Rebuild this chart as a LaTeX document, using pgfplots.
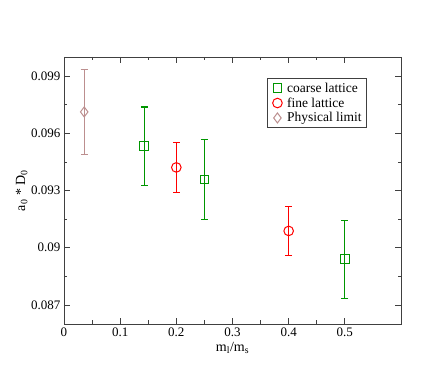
\documentclass[border=0pt]{standalone}
\usepackage{fontspec}
\setmainfont{Liberation Serif}
\usepackage{pgfplots}
\pgfplotsset{compat=1.18}

\definecolor{coarse}{RGB}{0,150,0}
\definecolor{fine}{RGB}{255,0,0}
\definecolor{phys}{RGB}{188,143,143}

\newcommand{\tickfont}{\fontsize{13pt}{13pt}\selectfont}
\newcommand{\labfont}{\fontsize{14pt}{14pt}\selectfont}
\newcommand{\legfont}{\fontsize{13.5pt}{13.5pt}\selectfont}

\begin{document}
\begin{tikzpicture}
\begin{axis}[
    scale only axis,
    width=337pt,
    height=267pt,
    xmin=0, xmax=0.6,
    ymin=0.086, ymax=0.100,
    xtick={0,0.1,...,0.5},
    xticklabels={0,0.1,0.2,0.3,0.4,0.5},
    ytick={0.087,0.090,0.093,0.096,0.099},
    yticklabels={0.087,0.09,0.093,0.096,0.099},
    minor x tick num=1,
    minor y tick num=1,
    tick align=inside,
    major tick length=6pt,
    minor tick length=3.5pt,
    every tick/.style={black!75, line width=0.7pt},
    axis line style={black!75, line width=0.9pt},
    /pgf/number format/assume math mode=true,
    every tick label/.append style={font=\tickfont},
    xlabel style={font=\labfont, yshift=1pt},
    ylabel style={font=\labfont, yshift=-3pt},
    xlabel={m\textsubscript{l}/m\textsubscript{s}},
    ylabel={a\textsubscript{0} * D\textsubscript{0}},
    legend style={
        at={(0.601,0.920)}, anchor=north west,
        draw=black!75, line width=0.6pt,
        font=\legfont,
        inner xsep=3pt, inner ysep=2pt,
        row sep=0pt,
        cells={anchor=west},
    },
    legend cell align=left,
    legend image code/.code={%
        \path (0cm,0cm) (0.5cm,0cm);
        \draw[#1, line width=1pt] plot coordinates {(0.25cm,0cm)};},
    error bars/error bar style={line width=1.1pt},
    error bars/error mark options={rotate=90, mark size=3.5pt, line width=1.1pt},
]
% coarse lattice
\addplot[only marks, mark=square, mark size=4.3pt, color=coarse, line width=1pt,
    error bars/.cd, y dir=both, y explicit]
coordinates {
    (0.1429,0.09533) +- (0,0.00205)
    (0.25,0.09358) +- (0,0.00210)
    (0.5,0.08940) +- (0,0.00205)
};
\addlegendentry{coarse lattice}
% fine lattice
\addplot[only marks, mark=o, mark size=4.8pt, color=fine, line width=1pt,
    error bars/.cd, y dir=both, y explicit]
coordinates {
    (0.2,0.09421) +- (0,0.00131)
    (0.4,0.09088) +- (0,0.00128)
};
\addlegendentry{fine lattice}
% physical limit
\addplot[only marks, mark=diamond, mark size=5pt, color=phys, line width=1pt,
    error bars/.cd, y dir=both, y explicit]
coordinates {
    (0.036,0.09712) +- (0,0.00222)
};
\addlegendentry{Physical limit}
\end{axis}
\path (current axis.south west) +(-64pt,-58pt) (current axis.north east) +(35pt,57pt);
\end{tikzpicture}
\end{document}
